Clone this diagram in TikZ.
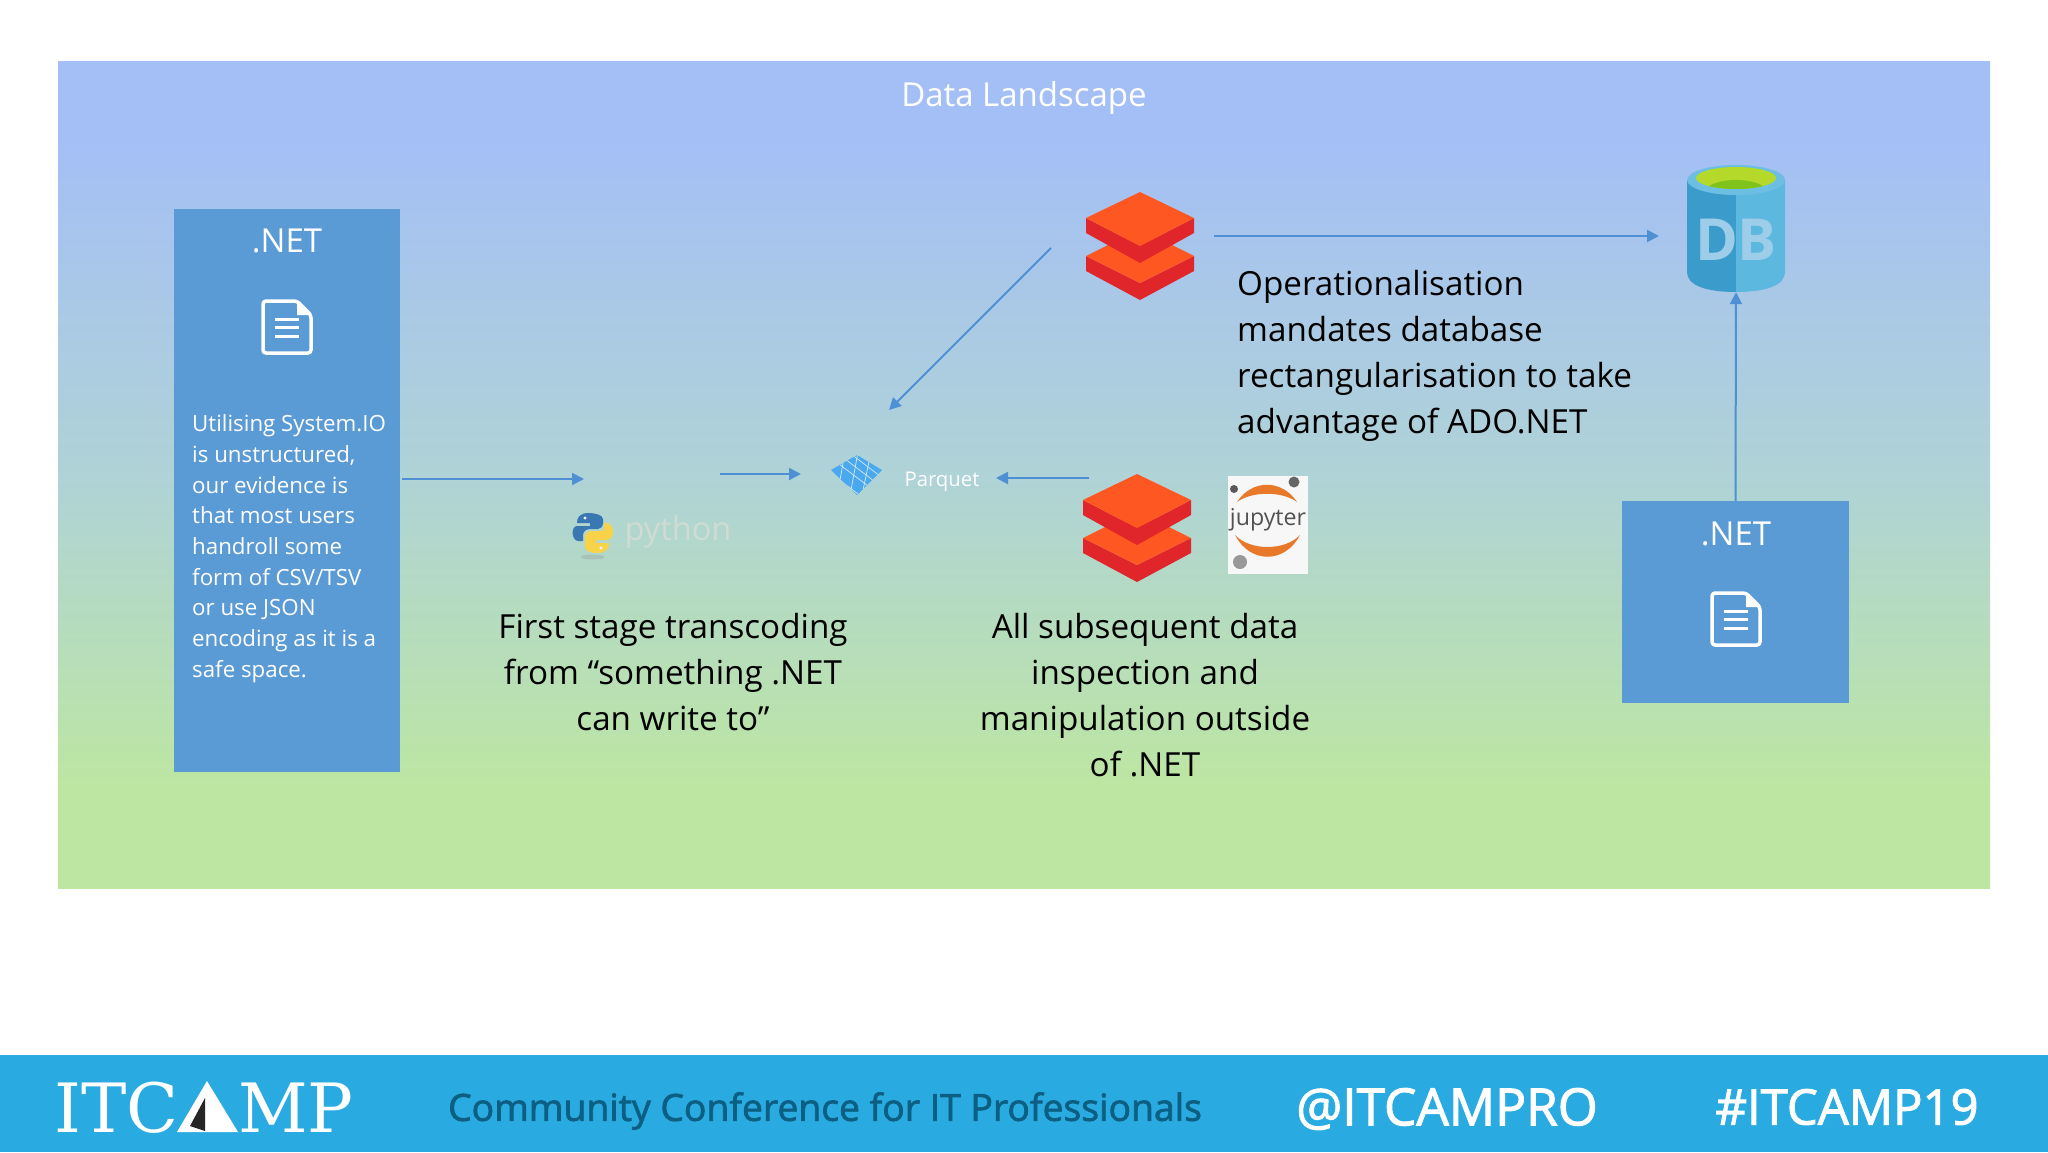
\documentclass[tikz,border=0pt]{standalone}
\usepackage{fontspec}
\setmainfont{Open Sans}
\newfontfamily\slab{DejaVu Serif}
\newfontfamily\semifont{Open Sans}[FakeBold=2]
\usetikzlibrary{arrows.meta}
\definecolor{gA}{HTML}{A4BFF6}
\definecolor{gB}{HTML}{AFD3D6}
\definecolor{gC}{HTML}{BDE6A2}
\definecolor{boxblue}{HTML}{5B9BD5}
\definecolor{arrowblue}{HTML}{4E90D3}
\definecolor{foot}{HTML}{29ABE2}
\definecolor{footdark}{HTML}{0C5F82}
\definecolor{redtop}{HTML}{FF5722}
\definecolor{redside}{HTML}{E0262A}
\definecolor{dbdark}{HTML}{3B9BCB}
\definecolor{dblight}{HTML}{5DB8DF}
\definecolor{dblip}{HTML}{6DBEE3}
\definecolor{dbtext}{HTML}{9ECDEA}
\definecolor{lime}{HTML}{B5D92A}
\definecolor{limedark}{HTML}{7FC31C}
\definecolor{pyblue}{HTML}{3A78B4}
\definecolor{pyyellow}{HTML}{F8D34A}
\definecolor{pytext}{HTML}{CFDCD3}
\definecolor{pqblue}{HTML}{4AA8EE}
\definecolor{juporange}{HTML}{E8792B}
\pgfdeclareverticalshading{panelgrad}{100bp}{color(0bp)=(gC); color(31bp)=(gC); color(49.7bp)=(gB); color(70.5bp)=(gA); color(100bp)=(gA)}
\tikzset{
  x=1pt,y=-1pt,
  arr/.style={draw=arrowblue,line width=2pt,-{Triangle[length=12pt,width=12pt]}},
  bluebox/.style={fill=boxblue,draw=none,inner sep=0pt},
  lab/.style={inner sep=0pt,align=center,text=black,font=\fontsize{33.2}{46}\selectfont},
  white lab/.style={inner sep=0pt,align=center,text=white},
  ghost/.style={inner sep=0pt,draw=none,fill=none},
  docline/.style={draw=white,line width=3.5pt,line join=round},
}
\newcommand{\docicon}[2]{%
  \draw[docline,rounded corners=3pt] (#1-24,#2-26)--(#1+10,#2-26)--(#1+24,#2-12)--(#1+24,#2+26)--(#1-24,#2+26)--cycle;
  \fill[white] (#1+10,#2-26)--(#1+24,#2-12)--(#1+10,#2-12)--cycle;
  \draw[white,line width=3pt] (#1-12,#2-8)--(#1+12,#2-8) (#1-12,#2+0.5)--(#1+12,#2+0.5) (#1-12,#2+9)--(#1+12,#2+9);
}
\newcommand{\bricks}[2]{%
  \begin{scope}[shift={(#1,#2)}]
    \fill[redside] (-54,64)--(0,91)--(54,64)--(54,79)--(0,108)--(-54,79)--cycle;
    \fill[redtop] (-54,64)--(0,37)--(54,64)--(0,91)--cycle;
    \fill[redside] (-54,26)--(0,54)--(54,26)--(54,41)--(0,71)--(-54,41)--cycle;
    \fill[redtop] (-54,26)--(0,0)--(54,26)--(0,54)--cycle;
  \end{scope}}
\begin{document}
\begin{tikzpicture}
\useasboundingbox (0,0) rectangle (2048,1152);
\fill[white] (0,0) rectangle (2048,1152);
% panel
\shade[shading=panelgrad] (58,61.5) rectangle (1990,888.5);
\node[white lab,font=\fontsize{33}{40}\selectfont] (title) at (1024,98) {Data Landscape};
% left box
\node[bluebox,minimum width=226pt,minimum height=563pt] (net1) at (287,490.5) {};
\node[white lab,font=\fontsize{33}{40}\selectfont] (net1t) at (287,241) {.NET};
\docicon{287}{327}
\node[white lab,align=left,anchor=north west,font=\fontsize{22.3}{30.7}\selectfont] (net1b) at (192,414.5) {Utilising System.IO\\is unstructured,\\our evidence is\\that most users\\handroll some\\form of CSV/TSV\\or use JSON\\encoding as it is a\\safe space.};
% right box
\node[bluebox,minimum width=227pt,minimum height=202pt] (net2) at (1735.5,602) {};
\node[white lab,font=\fontsize{33}{40}\selectfont] (net2t) at (1736,534) {.NET};
\docicon{1736}{619}
% python
\fill[black!40,opacity=.35] (592.5,557) ellipse (12 and 2.5);
\fill[pyblue] (589,513) .. controls (579,513) and (577,518) .. (577,523) -- (590,523) -- (590,526) -- (577,526) .. controls (571,526) and (571,540) .. (578,541) -- (583,541) -- (583,535) .. controls (583,530) and (588,529) .. (591,529) -- (598,529) .. controls (601,529) and (603,526) .. (603,524) -- (603,519) .. controls (603,515) and (595,513) .. (589,513) -- cycle;
\fill[pyyellow] (597,553) .. controls (607,553) and (609,548) .. (609,543) -- (596,543) -- (596,540) -- (607,540) .. controls (615,540) and (615,524) .. (607,523) -- (604,523) -- (604,528) .. controls (604,532) and (600,531) .. (597,531) -- (591,531) .. controls (588,531) and (585,534) .. (585,537) -- (585,547) .. controls (585,551) and (591,553) .. (597,553) -- cycle;
\fill[white] (585,518) circle (1.6) (601,548) circle (1.6);
\node[inner sep=0pt,text=pytext,font=\fontsize{32.6}{40}\selectfont] (py) at (678,532) {python};
\coordinate (pyin) at (584,479);
\coordinate (pyout) at (720,474);
\coordinate (pqin) at (801,474);
% parquet
\fill[pqblue] (857,455)--(882,470)--(857,495)--(831,470)--cycle;
\begin{scope}
\clip (857,455)--(882,470)--(857,495)--(831,470)--cycle;
\draw[gB!50!white,line width=.7pt] (835,461)--(872,489) (841,456)--(878,484) (847,451)--(884,479) (825,469)--(862,497);
\draw[gB!50!white,line width=.7pt] (845,452)--(840,480) (858,452)--(851,490) (871,452)--(862,495);
\end{scope}
\node[ghost,minimum width=51pt,minimum height=40pt] (pqicon) at (856.5,475) {};
\node[white lab,font=\fontsize{20.3}{24}\selectfont] (pq) at (942,482) {Parquet};
% databricks
\bricks{1140}{192}
\bricks{1137}{474}
\node[ghost,minimum width=108pt,minimum height=108pt] (brk1) at (1140,246) {};
\node[ghost,minimum width=108pt,minimum height=108pt] (brk2) at (1137,528) {};
% jupyter
\node[fill=white!94!gray,inner sep=0pt,minimum width=80pt,minimum height=98pt] (jup) at (1268,525) {};
\fill[juporange] (1237,502) .. controls (1252,479) and (1282,479) .. (1297,502) .. controls (1282,491) and (1252,491) .. (1237,502) -- cycle;
\fill[juporange] (1235,535) .. controls (1250,564) and (1285,564) .. (1300,535) .. controls (1285,551) and (1250,551) .. (1235,535) -- cycle;
\fill[black!60] (1294,482) circle (5.5);
\fill[black!65] (1234,489) circle (4);
\fill[black!40] (1240,562) circle (7);
\node[inner sep=0pt,text=black!68,font=\fontsize{23.2}{26}\selectfont] (juptxt) at (1268,520) {jupyter};
% DB cylinder
\fill[dbdark] (1687,180) -- (1736,180) -- (1736,292) .. controls (1705,292) and (1687,285) .. (1687,272) -- cycle;
\fill[dblight] (1736,180) -- (1785,180) -- (1785,272) .. controls (1785,285) and (1767,292) .. (1736,292) -- cycle;
\fill[dblip] (1736,180) ellipse (49 and 15);
\fill[lime] (1736,178) ellipse (40 and 11);
\begin{scope}
\clip (1736,178) ellipse (40 and 11);
\fill[limedark] (1736,191) ellipse (30 and 11);
\end{scope}
\node[ghost,text=dbtext,font=\fontsize{58}{60}\bfseries\selectfont] (dbt) at (1736,240) {DB};
\node[ghost,minimum width=98pt,minimum height=132pt] (db) at (1736,226) {};
% connectors
\coordinate (a3s) at (1089,478);
\coordinate (a3e) at (996,478);
\coordinate (a4s) at (1214,236);
\coordinate (a4e) at (1659,236);
\coordinate (a5s) at (1051,248);
\coordinate (a5e) at (889,410);
\draw[arr] ([xshift=2pt]net1.east |- pyin) -- (pyin);
\draw[arr] (pyout) -- (pqin);
\draw[arr] (a3s) -- (a3e);
\draw[arr] (a4s) -- (a4e);
\draw[arr] (a5s) -- (a5e);
\draw[arr] (net2.north) -- (db.south);
% captions
\node[lab] (c1) at (673,672) {First stage transcoding\\from “something .NET\\can write to”};
\node[lab] (c2) at (1145,695) {All subsequent data\\inspection and\\manipulation outside\\of .NET};
\node[lab,align=left,anchor=west] (c3) at (1237,356) {Operationalisation\\mandates database\\rectangularisation to take\\advantage of ADO.NET};
% footer
\fill[foot] (0,1055) rectangle (2048,1152);
\node[ghost,anchor=base west,text=white,font=\slab\fontsize{68}{70}\selectfont] (it1) at (54,1132) {ITC};
\node[ghost,anchor=base west,text=white,font=\slab\fontsize{68}{70}\selectfont] (it2) at (238,1132) {MP};
\fill[white] (207,1081)--(238,1132)--(205,1132)--(177,1132)--cycle;
\fill[black!85] (205,1098)--(205,1131)--(190,1126)--cycle;
\node[ghost,text=footdark,font=\semifont\fontsize{37.3}{44}\selectfont] (f1) at (825,1111) {Community Conference for IT Professionals};
\node[ghost,text=white,font=\semifont\fontsize{51.3}{54}\selectfont] (f2) at (1447,1109) {@ITCAMPRO};
\node[ghost,text=white,font=\semifont\fontsize{49}{54}\selectfont] (f3) at (1847,1107) {\#ITCAMP19};
\end{tikzpicture}
\end{document}
